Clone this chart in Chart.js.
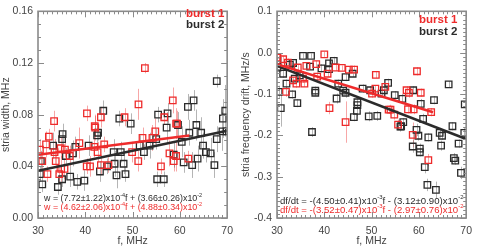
<!DOCTYPE html>
<html>
<head>
<meta charset="utf-8">
<script src="https://cdn.jsdelivr.net/npm/chart.js@4.4.0/dist/chart.umd.min.js"></script>
<style>
html, body { margin: 0; padding: 0; background: #fff; }
#wrap { position: relative; width: 479px; height: 247px; }
#widthChart { position: absolute; left: 0; top: 0; }
#driftChart { position: absolute; left: 240px; top: 0; }
</style>
</head>
<body>
<div id="wrap">
  <canvas id="widthChart" width="240" height="247"></canvas>
  <canvas id="driftChart" width="239" height="247"></canvas>
</div>
<script>
// [f MHz, value, error]
const widthBurst1 = [
  [52.6,0.116,0.004],[40.35,0.081,0.006],[33.4,0.075,0.008],[51.25,0.088,0.012],
  [43.3,0.078,0.008],[48.3,0.078,0.007],[58.5,0.091,0.010],[56.7,0.078,0.006],
  [59.2,0.073,0.012],[42.0,0.071,0.008],[30.4,0.053,0.008],[31.7,0.057,0.010],
  [32.3,0.063,0.006],[30.9,0.044,0.006],[33.5,0.051,0.010],[34.8,0.054,0.008],
  [35.7,0.053,0.006],[36.7,0.048,0.008],[38.75,0.058,0.012],[40.3,0.040,0.006],
  [41.0,0.040,0.008],[42.1,0.070,0.010],[41.9,0.055,0.008],[44.0,0.057,0.006],
  [43.3,0.041,0.008],[44.9,0.041,0.006],[34.9,0.038,0.010],[34.5,0.034,0.006],
  [35.6,0.038,0.008],[52.1,0.062,0.008],[54.2,0.062,0.010],[56.0,0.040,0.006],
  [57.8,0.050,0.010],[58.7,0.044,0.008],[59.2,0.048,0.012],[59.4,0.073,0.010],
  [61.8,0.046,0.006],[49.9,0.051,0.008],[32.0,0.034,0.006],[33.75,0.044,0.010],
  [42.6,0.051,0.008],[54.8,0.067,0.010],[51.2,0.044,0.008]
];
const widthBurst2 = [
  [67.8,0.106,0.005],[43.8,0.083,0.008],[47.2,0.077,0.006],[49.6,0.073,0.008],
  [55.4,0.080,0.006],[57.4,0.081,0.008],[61.7,0.086,0.010],[62.9,0.091,0.008],
  [63.5,0.072,0.012],[69.1,0.077,0.015],[69.6,0.083,0.020],[59.6,0.072,0.010],
  [30.9,0.026,0.006],[34.2,0.024,0.006],[35.1,0.030,0.006],[36.8,0.032,0.008],
  [38.3,0.028,0.006],[39.8,0.029,0.008],[42.5,0.064,0.008],[42.7,0.066,0.006],
  [33.2,0.056,0.010],[35.2,0.065,0.008],[35.1,0.061,0.006],[37.9,0.055,0.008],
  [37.4,0.050,0.010],[35.9,0.048,0.006],[30.6,0.044,0.008],[30.4,0.034,0.006],
  [43.1,0.036,0.008],[44.6,0.040,0.006],[46.2,0.042,0.010],[48.1,0.042,0.008],
  [46.6,0.033,0.010],[48.5,0.034,0.006],[47.5,0.051,0.008],[46.0,0.051,0.010],
  [52.4,0.051,0.006],[51.5,0.056,0.008],[53.6,0.056,0.010],[55.0,0.061,0.008],
  [55.2,0.030,0.006],[56.6,0.030,0.006],[57.2,0.070,0.012],[58.7,0.049,0.010],
  [60.8,0.043,0.008],[62.6,0.041,0.010],[60.4,0.059,0.012],[62.0,0.066,0.010],
  [64.5,0.066,0.012],[64.9,0.056,0.010],[65.5,0.051,0.008],[63.75,0.046,0.010],
  [66.5,0.050,0.012],[67.8,0.061,0.010],[69.0,0.067,0.015],[69.9,0.067,0.020],
  [67.3,0.041,0.010],[40.7,0.056,0.008]
];
const widthFit1 = [[30,0.049],[62,0.0638]];
const widthFit2 = [[30,0.0366],[70,0.0675]];

const driftBurst1 = [
  [40.0,-0.004,0.006],[30.1,-0.012,0.010],[31.3,-0.016,0.008],[32.3,-0.024,0.010],
  [40.7,-0.051,0.008],[38.5,-0.058,0.010],[42.4,-0.036,0.008],[43.7,-0.037,0.006],
  [45.2,-0.041,0.008],[46.3,-0.041,0.010],[41.1,-0.134,0.015],[44.5,-0.168,0.050],
  [50.9,-0.054,0.008],[59.6,-0.045,0.010],[57.4,-0.091,0.010],[57.9,-0.097,0.012],
  [60.4,-0.097,0.010],[54.0,-0.138,0.012],[57.7,-0.137,0.010],[58.9,-0.137,0.012],
  [50.8,-0.087,0.008],[35.5,-0.063,0.010],[33.4,-0.067,0.008],[34.1,-0.075,0.010],
  [35.8,-0.075,0.008],[31.9,-0.095,0.012],[34.4,-0.036,0.008],[36.2,-0.032,0.006],
  [38.3,-0.028,0.008],[55.6,-0.174,0.012],[58.7,-0.199,0.030],[62.0,-0.260,0.015],
  [62.6,-0.144,0.010],[53.6,-0.138,0.010],[54.8,-0.150,0.012],[52.9,-0.083,0.008],
  [50.1,-0.099,0.010]
];
const driftBurst2 = [
  [30.1,-0.020,0.008],[30.1,-0.036,0.010],[30.4,-0.095,0.015],[30.8,-0.134,0.045],
  [31.3,-0.051,0.010],[32.0,-0.075,0.010],[32.7,-0.029,0.008],[33.4,-0.025,0.006],
  [33.2,-0.101,0.010],[34.3,-0.122,0.010],[33.75,-0.063,0.008],[34.8,-0.055,0.010],
  [35.5,-0.008,0.006],[37.2,-0.008,0.006],[37.0,-0.034,0.008],[38.1,-0.092,0.010],
  [38.1,-0.097,0.008],[39.4,-0.038,0.010],[41.0,-0.026,0.008],[42.0,-0.020,0.010],
  [41.0,-0.040,0.008],[42.6,-0.111,0.012],[42.95,-0.075,0.010],[44.0,-0.092,0.008],
  [44.5,-0.059,0.010],[44.5,-0.097,0.012],[46.25,-0.156,0.010],[47.0,-0.120,0.012],
  [47.0,-0.127,0.010],[46.9,-0.141,0.012],[46.0,-0.051,0.008],[48.1,-0.087,0.010],
  [49.4,-0.154,0.012],[49.7,-0.091,0.010],[53.5,-0.073,0.010],[52.6,-0.091,0.008],
  [52.1,-0.099,0.010],[54.9,-0.103,0.010],[56.5,-0.112,0.012],[58.8,-0.091,0.010],
  [60.4,-0.124,0.012],[63.2,-0.115,0.010],[66.3,-0.077,0.008],[69.7,-0.125,0.010],
  [51.2,-0.153,0.012],[56.7,-0.168,0.010],[56.1,-0.179,0.012],[59.5,-0.187,0.015],
  [60.9,-0.160,0.012],[67.1,-0.178,0.010],[56.25,-0.178,0.010],[59.9,-0.201,0.012],
  [62.0,-0.205,0.010],[64.4,-0.194,0.012],[64.9,-0.201,0.010],[69.6,-0.194,0.012],
  [58.7,-0.227,0.015],[60.2,-0.232,0.012],[60.2,-0.241,0.010],[64.7,-0.225,0.012],
  [68.4,-0.220,0.010],[67.4,-0.255,0.012],[67.7,-0.261,0.010],[68.9,-0.291,0.015],
  [61.25,-0.277,0.015],[61.8,-0.320,0.015],[63.6,-0.332,0.020],[37.4,-0.192,0.012]
];
const driftFit1 = [[30,-0.028],[63,-0.144]];
const driftFit2 = [[30,-0.032],[70,-0.209]];

const RED = "#ee2b2b";
const BLACK = "#2b2b2b";
const AXIS = "#8a8a8a";
const FONT = "'Liberation Sans', Arial, sans-serif";

function pts(arr) {
  return arr.map(p => ({ x: p[0], y: p[1], e: p[2] }));
}

function scatterSet(arr, color, barColor) {
  return {
    data: pts(arr),
    pointStyle: "rect",
    pointRadius: 4.6,
    borderColor: color,
    backgroundColor: "rgba(0,0,0,0)",
    borderWidth: 1.3,
    barColor: barColor,
    order: 2
  };
}

function fitSet(arr, color) {
  return {
    data: pts(arr),
    showLine: true,
    pointRadius: 0,
    borderColor: color,
    borderWidth: 2.6,
    order: 0
  };
}

// text with superscripts: parts = [[text, isSup], ...]
function richText(ctx, parts, x, y, size, color) {
  ctx.fillStyle = color;
  ctx.textBaseline = "middle";
  ctx.textAlign = "left";
  parts.forEach(p => {
    const s = p[1] ? size * 0.62 : size;
    ctx.font = s + "px " + FONT;
    ctx.fillText(p[0], x, p[1] ? y - size * 0.38 : y);
    x += ctx.measureText(p[0]).width;
  });
}

function makeFrame(cfg) {
  return {
    id: "frame",
    beforeDatasetsDraw(chart) {
      const ctx = chart.ctx;
      const { x, y } = chart.scales;
      ctx.save();
      ctx.lineWidth = 1;
      chart.data.datasets.forEach(ds => {
        if (!ds.barColor) return;
        ctx.strokeStyle = ds.barColor;
        ds.data.forEach(p => {
          const px = Math.round(x.getPixelForValue(p.x)) + 0.5;
          ctx.beginPath();
          ctx.moveTo(px, y.getPixelForValue(p.y - p.e));
          ctx.lineTo(px, y.getPixelForValue(p.y + p.e));
          ctx.stroke();
        });
      });
      ctx.restore();
    },
    afterDraw(chart) {
      const ctx = chart.ctx;
      const a = chart.chartArea;
      const { x, y } = chart.scales;
      ctx.save();
      ctx.strokeStyle = AXIS;
      ctx.lineWidth = 1;
      ctx.beginPath();
      // x ticks (bottom & top)
      let n = Math.round((x.max - x.min) / cfg.xMinor);
      let every = Math.round(cfg.xMajor / cfg.xMinor);
      for (let i = 0; i <= n; i++) {
        const len = i % every === 0 ? 6 : 3;
        const p = Math.round(x.getPixelForValue(x.min + i * cfg.xMinor)) + 0.5;
        ctx.moveTo(p, a.bottom); ctx.lineTo(p, a.bottom - len);
        ctx.moveTo(p, a.top); ctx.lineTo(p, a.top + len);
      }
      n = Math.round((y.max - y.min) / cfg.yMinor);
      every = Math.round(cfg.yMajor / cfg.yMinor);
      for (let i = 0; i <= n; i++) {
        const len = i % every === 0 ? 6 : 3;
        const p = Math.round(y.getPixelForValue(y.min + i * cfg.yMinor)) + 0.5;
        ctx.moveTo(a.left, p); ctx.lineTo(a.left + len, p);
        ctx.moveTo(a.right, p); ctx.lineTo(a.right - len, p);
      }
      ctx.stroke();
      ctx.lineWidth = 1.6;
      ctx.strokeRect(a.left, a.top, a.right - a.left, a.bottom - a.top);

      // legend
      ctx.font = "bold 11.5px " + FONT;
      ctx.textAlign = "left";
      ctx.textBaseline = "middle";
      ctx.fillStyle = RED;
      ctx.fillText("burst 1", cfg.legX, cfg.legY[0]);
      ctx.fillStyle = BLACK;
      ctx.fillText("burst 2", cfg.legX, cfg.legY[1]);

      // fit equations
      richText(ctx, cfg.eq2, cfg.eqX, cfg.eqY[0], cfg.eqSize, BLACK);
      richText(ctx, cfg.eq1, cfg.eqX, cfg.eqY[1], cfg.eqSize, RED);
      ctx.restore();
    }
  };
}

function makeChart(id, b1, b2, f1, f2, yMin, yMax, yStep, yDec, yTitle, yWidth, frameCfg) {
  return new Chart(document.getElementById(id).getContext("2d"), {
    type: "scatter",
    data: {
      datasets: [
        fitSet(f1, RED),
        fitSet(f2, BLACK),
        scatterSet(b1, RED, "rgba(238,60,60,0.45)"),
        scatterSet(b2, BLACK, "rgba(90,90,90,0.45)")
      ]
    },
    options: {
      responsive: false,
      animation: false,
      layout: { padding: { top: 5, right: 10, left: 0, bottom: 0 } },
      plugins: { legend: { display: false }, tooltip: { enabled: false } },
      scales: {
        x: {
          type: "linear",
          min: 30, max: 70,
          grid: { display: false, drawTicks: false },
          border: { display: false },
          ticks: { stepSize: 10, padding: 7, color: "#444", font: { family: FONT, size: 10.5 } },
          title: { display: true, text: "f, MHz", color: "#444", padding: { top: 0, bottom: 0 },
                   font: { family: FONT, size: 10.5 } },
          afterFit: s => { s.height = 29; }
        },
        y: {
          min: yMin, max: yMax,
          grid: { display: false, drawTicks: false },
          border: { display: false },
          ticks: { stepSize: yStep, padding: 5, color: "#444", font: { family: FONT, size: 10.5 },
                   callback: v => v.toFixed(yDec) },
          title: { display: true, text: yTitle, color: "#444", padding: { top: 0, bottom: 0 },
                   font: { family: FONT, size: 10.5 } },
          afterFit: s => { s.width = yWidth; }
        }
      }
    },
    plugins: [makeFrame(frameCfg)]
  });
}

makeChart("widthChart", widthBurst1, widthBurst2, widthFit1, widthFit2,
  0, 0.16, 0.04, 2, "stria width, MHz", 38, {
    xMinor: 1, xMajor: 10, yMinor: 0.01, yMajor: 0.04,
    legX: 186, legY: [14, 25],
    eqX: 44, eqY: [199, 208], eqSize: 8.9,
    eq2: [["w = (7.72\u00b11.22)x10", 0], ["-4", 1], ["f + (3.66\u00b10.26)x10", 0], ["-2", 1]],
    eq1: [["w = (4.62\u00b12.06)x10", 0], ["-4", 1], ["f + (4.88\u00b10.34)x10", 0], ["-2", 1]]
  });

makeChart("driftChart", driftBurst1, driftBurst2, driftFit1, driftFit2,
  -0.4, 0.1, 0.1, 1, "stria frequency drift, MHz/s", 37, {
    xMinor: 1, xMajor: 10, yMinor: 0.01, yMajor: 0.1,
    legX: 179, legY: [20, 32],
    eqX: 40, eqY: [201, 210], eqSize: 9.6,
    eq2: [["df/dt = -(4.50\u00b10.41)x10", 0], ["-3", 1], ["f - (3.12\u00b10.90)x10", 0], ["-2", 1]],
    eq1: [["df/dt = -(3.52\u00b10.47)x10", 0], ["-3", 1], ["f - (2.97\u00b10.76)x10", 0], ["-2", 1]]
  });
</script>
</body>
</html>
